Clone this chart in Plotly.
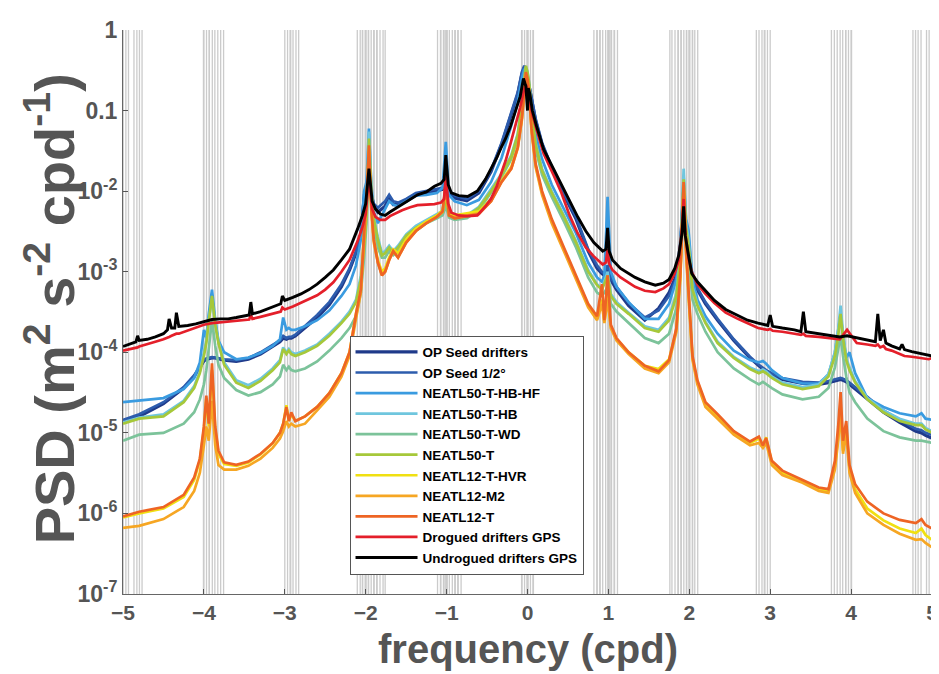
import plotly.graph_objects as go

# ---------------- data ----------------
# frequency grid (cpd) for the model / forecast spectra
FREQ_MODEL = [
    -5.0, -4.8, -4.5, -4.25, -4.12, -4.05, -4.0, -3.97, -3.94, -3.9,
    -3.86, -3.82, -3.75, -3.6, -3.45, -3.3, -3.15, -3.06, -3.02, -2.98,
    -2.95, -2.92, -2.87, -2.75, -2.6, -2.45, -2.3, -2.2, -2.12, -2.06,
    -2.02, -1.99, -1.96, -1.93, -1.9, -1.85, -1.8, -1.76, -1.71, -1.66,
    -1.6, -1.5, -1.38, -1.25, -1.12, -1.05, -1.01, -0.97, -0.9, -0.75,
    -0.6, -0.45, -0.32, -0.2, -0.12, -0.07, -0.04, -0.02, 0.0, 0.02,
    0.05, 0.1, 0.18, 0.3, 0.45, 0.6, 0.75, 0.86, 0.92, 0.95,
    0.99, 1.03, 1.1, 1.25, 1.45, 1.62, 1.75, 1.84, 1.89, 1.93,
    1.96, 1.99, 2.04, 2.1, 2.2, 2.35, 2.55, 2.75, 2.86, 2.91,
    2.95, 3.02, 3.15, 3.4, 3.6, 3.72, 3.8, 3.84, 3.87, 3.9,
    3.94, 3.98, 4.05, 4.2, 4.4, 4.6, 4.8, 4.87, 4.92, 5.0,
]

OP_SEED_DRIFTERS = [
    1.35e-5, 1.6e-5, 2.3e-5, 3.6e-5, 5.0e-5, 6.6e-5, 7.8e-5, 8.2e-5, 8.4e-5, 8.5e-5,
    8.5e-5, 8.3e-5, 8.0e-5, 7.7e-5, 8.2e-5, 9.5e-5, 1.2e-4, 1.35e-4, 1.5e-4, 1.45e-4,
    1.5e-4, 1.5e-4, 1.6e-4, 2.0e-4, 2.7e-4, 3.9e-4, 6.5e-4, 1.05e-3, 1.7e-3, 2.8e-3,
    8e-3, 1.1e-2, 1.6e-2, 9e-3, 6.5e-3, 5.5e-3, 6.0e-3, 6.5e-3, 8.5e-3, 6.8e-3,
    6.8e-3, 7.5e-3, 9.0e-3, 9.5e-3, 1.0e-2, 1.05e-2, 1.3e-2, 9.5e-3, 8.2e-3, 7.6e-3,
    9.5e-3, 1.75e-2, 3.8e-2, 9e-2, 0.16, 0.28, 0.34, 0.3, 0.22, 0.2,
    0.14, 7.5e-2, 3.8e-2, 1.9e-2, 9e-3, 4.5e-3, 1.8e-3, 1.1e-3, 9.5e-4, 9e-4,
    1.1e-3, 8e-4, 6e-4, 3.8e-4, 2.5e-4, 3.5e-4, 5.5e-4, 9e-4, 2.2e-3, 1.0e-2,
    3e-3, 1.6e-3, 8.5e-4, 6e-4, 4e-4, 2.5e-4, 1.4e-4, 8.5e-5, 6.8e-5, 6.2e-5,
    5.8e-5, 5.3e-5, 4.6e-5, 4.1e-5, 4.0e-5, 4.2e-5, 4.4e-5, 4.5e-5, 4.6e-5, 4.5e-5,
    4.3e-5, 4.0e-5, 3.5e-5, 2.6e-5, 1.8e-5, 1.35e-5, 1.05e-5, 1.0e-5, 9.3e-6, 8.6e-6,
]

OP_SEED_HALF = [
    1.45e-5, 1.7e-5, 2.4e-5, 3.7e-5, 5.2e-5, 6.8e-5, 8.0e-5, 8.4e-5, 8.6e-5, 8.7e-5,
    8.6e-5, 8.4e-5, 8.2e-5, 8.0e-5, 8.5e-5, 1.0e-4, 1.25e-4, 1.4e-4, 1.6e-4, 1.5e-4,
    1.55e-4, 1.55e-4, 1.65e-4, 2.1e-4, 2.9e-4, 4.2e-4, 7.0e-4, 1.1e-3, 1.8e-3, 3.0e-3,
    9e-3, 1.2e-2, 1.8e-2, 9.5e-3, 7e-3, 6.2e-3, 6.8e-3, 7.5e-3, 9e-3, 7.5e-3,
    7.2e-3, 8.0e-3, 9.5e-3, 1.0e-2, 1.05e-2, 1.1e-2, 1.35e-2, 1.0e-2, 8.8e-3, 8.0e-3,
    1.0e-2, 1.85e-2, 4.0e-2, 9.5e-2, 0.17, 0.3, 0.36, 0.31, 0.23, 0.21,
    0.15, 8e-2, 4e-2, 2.0e-2, 9.5e-3, 4.8e-3, 1.9e-3, 1.2e-3, 1.0e-3, 9.5e-4,
    1.2e-3, 8.5e-4, 6.5e-4, 4.1e-4, 2.7e-4, 3.3e-4, 5.0e-4, 8.5e-4, 2.0e-3, 1.1e-2,
    3.2e-3, 1.7e-3, 9e-4, 6.3e-4, 4.2e-4, 2.6e-4, 1.45e-4, 8.8e-5, 7e-5, 6.4e-5,
    6.0e-5, 5.5e-5, 4.8e-5, 4.3e-5, 4.2e-5, 4.4e-5, 4.6e-5, 4.7e-5, 4.8e-5, 4.7e-5,
    4.5e-5, 4.2e-5, 3.7e-5, 2.8e-5, 1.9e-5, 1.45e-5, 1.12e-5, 1.08e-5, 1.0e-5, 9.4e-6,
]

NEATL50_T_HB_HF = [
    2.4e-5, 2.5e-5, 2.7e-5, 3.5e-5, 4.8e-5, 7.5e-5, 1.9e-4, 1.5e-4, 3.0e-4, 6.0e-4,
    2.5e-4, 1.4e-4, 1.0e-4, 8.2e-5, 8.6e-5, 9.8e-5, 1.2e-4, 1.45e-4, 2.7e-4, 1.9e-4,
    2.0e-4, 1.9e-4, 1.9e-4, 2.1e-4, 2.5e-4, 3.3e-4, 5.0e-4, 7.0e-4, 1.2e-3, 2.5e-3,
    1.0e-2, 1.3e-2, 6.0e-2, 1.2e-2, 5.5e-3, 4.0e-3, 5.0e-3, 6.0e-3, 7.5e-3, 6.8e-3,
    6.5e-3, 7.5e-3, 8.8e-3, 9.0e-3, 9.5e-3, 1.1e-2, 4.1e-2, 9e-3, 7.5e-3, 6.7e-3,
    7.8e-3, 1.3e-2, 2.6e-2, 6.5e-2, 0.13, 0.25, 0.33, 0.3, 0.24, 0.2,
    0.12, 5e-2, 2.5e-2, 1.2e-2, 6e-3, 3e-3, 1.3e-3, 8.5e-4, 7.5e-4, 9e-4,
    8.5e-3, 1.0e-3, 6.5e-4, 4.2e-4, 2.6e-4, 2.6e-4, 4.0e-4, 8e-4, 2.0e-3, 1.5e-2,
    4.5e-3, 3.3e-3, 8e-4, 4.5e-4, 2.8e-4, 1.7e-4, 1.05e-4, 8.0e-5, 7.5e-5, 7.8e-5,
    7.2e-5, 6e-5, 4.8e-5, 4.1e-5, 4.1e-5, 5.3e-5, 1.0e-4, 1.8e-4, 3.0e-4, 1.6e-4,
    8.5e-5, 1.0e-4, 5.5e-5, 2.7e-5, 2.1e-5, 1.75e-5, 1.6e-5, 1.75e-5, 1.5e-5, 1.45e-5,
]

NEATL50_T_HB = [
    1.35e-5, 1.55e-5, 1.7e-5, 2.5e-5, 3.8e-5, 5.8e-5, 1.0e-4, 1.4e-4, 2.6e-4, 4.5e-4,
    2.3e-4, 1.35e-4, 7.5e-5, 4.5e-5, 3.9e-5, 4.7e-5, 6.3e-5, 8e-5, 1.15e-4, 1.0e-4,
    1.1e-4, 1.0e-4, 9.5e-5, 1.05e-4, 1.25e-4, 1.7e-4, 2.4e-4, 3.2e-4, 4.5e-4, 9e-4,
    2.5e-3, 6e-3, 5.5e-2, 1.1e-2, 4.8e-3, 2.7e-3, 1.7e-3, 1.8e-3, 2.1e-3, 1.8e-3,
    2.1e-3, 2.9e-3, 3.7e-3, 4.4e-3, 5.2e-3, 5.7e-3, 1.0e-2, 5.2e-3, 4.8e-3, 5.0e-3,
    6.4e-3, 1.05e-2, 1.65e-2, 2.8e-2, 5.2e-2, 0.125, 0.26, 0.35, 0.3, 0.22,
    0.1, 4e-2, 1.9e-2, 1.0e-2, 5e-3, 2.4e-3, 1.05e-3, 7e-4, 6.2e-4, 7.5e-4,
    1.0e-3, 5.3e-4, 4.2e-4, 3.1e-4, 2.1e-4, 1.9e-4, 2.7e-4, 5.5e-4, 1.7e-3, 1.9e-2,
    4e-3, 2.5e-3, 6.5e-4, 4e-4, 2.4e-4, 1.35e-4, 8.8e-5, 6.5e-5, 5.8e-5, 6.1e-5,
    5.8e-5, 5.0e-5, 4.2e-5, 3.7e-5, 4.0e-5, 5.4e-5, 1.0e-4, 1.9e-4, 3.8e-4, 1.7e-4,
    8.5e-5, 6.5e-5, 4.4e-5, 2.7e-5, 1.9e-5, 1.5e-5, 1.3e-5, 1.3e-5, 1.15e-5, 1.05e-5,
]

NEATL50_T_WD = [
    8.0e-6, 9.5e-6, 1.0e-5, 1.3e-5, 1.8e-5, 2.6e-5, 4.0e-5, 6.0e-5, 1.1e-4, 2.5e-4,
    1.2e-4, 7.0e-5, 4.8e-5, 3.4e-5, 2.9e-5, 3.2e-5, 4.0e-5, 5.0e-5, 7.0e-5, 6.0e-5,
    6.6e-5, 6.0e-5, 5.8e-5, 6.3e-5, 7.7e-5, 1.05e-4, 1.5e-4, 2.0e-4, 2.8e-4, 5.5e-4,
    1.5e-3, 4e-3, 2.5e-2, 7e-3, 3.5e-3, 2.0e-3, 1.5e-3, 1.5e-3, 1.8e-3, 1.6e-3,
    1.8e-3, 2.5e-3, 3.2e-3, 4.0e-3, 4.6e-3, 5e-3, 6.5e-3, 4.7e-3, 4.4e-3, 4.6e-3,
    5.8e-3, 9.5e-3, 1.5e-2, 2.5e-2, 4.5e-2, 0.1, 0.22, 0.3, 0.26, 0.2,
    0.09, 3.3e-2, 1.6e-2, 8.5e-3, 4.2e-3, 2.0e-3, 8.5e-4, 5.5e-4, 5.0e-4, 5.5e-4,
    6.5e-4, 4.0e-4, 3.2e-4, 2.3e-4, 1.5e-4, 1.3e-4, 1.7e-4, 3.5e-4, 1.1e-3, 1.0e-2,
    2.5e-3, 1.5e-3, 4.5e-4, 3.0e-4, 1.8e-4, 1.0e-4, 6.3e-5, 4.6e-5, 4.0e-5, 4.3e-5,
    4.0e-5, 3.6e-5, 3.0e-5, 2.6e-5, 2.8e-5, 3.6e-5, 6.5e-5, 1.1e-4, 1.6e-4, 9e-5,
    5.0e-5, 3.2e-5, 2.4e-5, 1.5e-5, 1.05e-5, 8.8e-6, 8.0e-6, 8.0e-6, 7.8e-6, 7.5e-6,
]

NEATL50_T = [
    1.3e-5, 1.5e-5, 1.6e-5, 2.4e-5, 3.6e-5, 5.5e-5, 9e-5, 1.3e-4, 2.4e-4, 5.0e-4,
    2.2e-4, 1.3e-4, 7.0e-5, 4.2e-5, 3.6e-5, 4.4e-5, 6.0e-5, 7.5e-5, 1.1e-4, 9.5e-5,
    1.05e-4, 9.5e-5, 9e-5, 1.0e-4, 1.2e-4, 1.6e-4, 2.3e-4, 3.0e-4, 4.2e-4, 8e-4,
    2.0e-3, 5e-3, 4.5e-2, 1.0e-2, 4.5e-3, 2.5e-3, 1.6e-3, 1.7e-3, 2.0e-3, 1.7e-3,
    2.0e-3, 2.8e-3, 3.5e-3, 4.2e-3, 5.0e-3, 5.5e-3, 8e-3, 5e-3, 4.6e-3, 4.9e-3,
    6.2e-3, 1.0e-2, 1.6e-2, 2.7e-2, 5e-2, 0.12, 0.25, 0.36, 0.3, 0.22,
    0.1, 3.8e-2, 1.8e-2, 9.5e-3, 4.8e-3, 2.3e-3, 1.0e-3, 6.8e-4, 6e-4, 7e-4,
    9e-4, 5e-4, 4e-4, 3.0e-4, 2.0e-4, 1.8e-4, 2.5e-4, 5e-4, 1.5e-3, 1.4e-2,
    3.5e-3, 2.2e-3, 6e-4, 3.8e-4, 2.3e-4, 1.3e-4, 8.5e-5, 6.2e-5, 5.5e-5, 5.8e-5,
    5.5e-5, 4.8e-5, 4.0e-5, 3.5e-5, 3.8e-5, 5.0e-5, 9e-5, 1.6e-4, 3.0e-4, 1.5e-4,
    8e-5, 6e-5, 4.2e-5, 2.6e-5, 1.8e-5, 1.4e-5, 1.25e-5, 1.25e-5, 1.1e-5, 1.0e-5,
]

NEATL12_T_HVR = [
    8.9e-7, 1.0e-6, 1.15e-6, 1.6e-6, 2.6e-6, 4.6e-6, 1.1e-5, 2.7e-5, 1.2e-5, 6e-5,
    1.1e-5, 5.5e-6, 4.1e-6, 3.9e-6, 4.3e-6, 5.4e-6, 7.4e-6, 1.0e-5, 1.3e-5, 2.2e-5,
    1.4e-5, 1.7e-5, 1.4e-5, 1.6e-5, 2.1e-5, 3.1e-5, 5.5e-5, 1.0e-4, 3.0e-4, 6e-4,
    3e-3, 8e-3, 3.0e-2, 6e-3, 2.5e-3, 1.4e-3, 1.0e-3, 1.1e-3, 1.5e-3, 1.9e-3,
    1.7e-3, 2.5e-3, 3.4e-3, 4.2e-3, 5.0e-3, 5.8e-3, 1.0e-2, 5.3e-3, 5.0e-3, 5.3e-3,
    5.6e-3, 8e-3, 1.35e-2, 2.0e-2, 3.6e-2, 8e-2, 0.18, 0.28, 0.24, 0.17,
    6e-2, 2.1e-2, 9.5e-3, 4.3e-3, 1.9e-3, 8.5e-4, 3.8e-4, 2.6e-4, 4.5e-4, 2.4e-4,
    5e-4, 2.1e-4, 1.45e-4, 1.0e-4, 6.8e-5, 6.2e-5, 8.2e-5, 1.9e-4, 9e-4, 1.1e-2,
    1.8e-3, 5.5e-4, 8.5e-5, 4.3e-5, 2.3e-5, 1.6e-5, 1.0e-5, 7.5e-6, 8.5e-6, 7e-6,
    8.8e-6, 4.3e-6, 3.2e-6, 2.5e-6, 2.0e-6, 1.9e-6, 3.8e-6, 9e-6, 2.2e-5, 6e-6,
    1.2e-5, 3.6e-6, 2.0e-6, 1.15e-6, 8.2e-7, 6.5e-7, 5.7e-7, 6.5e-7, 5.4e-7, 4.7e-7,
]

NEATL12_M2 = [
    6.6e-7, 7.0e-7, 8.5e-7, 1.2e-6, 1.9e-6, 3.2e-6, 7e-6, 1.2e-5, 8e-6, 2.5e-5,
    7e-6, 4.0e-6, 3.5e-6, 3.5e-6, 3.9e-6, 4.8e-6, 6.5e-6, 8.5e-6, 1.05e-5, 1.4e-5,
    1.2e-5, 1.3e-5, 1.2e-5, 1.3e-5, 1.9e-5, 2.8e-5, 5.0e-5, 9e-5, 2.6e-4, 5.5e-4,
    2.5e-3, 7e-3, 3.2e-2, 5.5e-3, 2.3e-3, 1.3e-3, 9e-4, 1.0e-3, 1.4e-3, 1.8e-3,
    1.5e-3, 2.3e-3, 3.2e-3, 4.0e-3, 4.8e-3, 5.5e-3, 1.1e-2, 5.0e-3, 4.7e-3, 5.0e-3,
    5.3e-3, 7.5e-3, 1.3e-2, 1.9e-2, 3.4e-2, 7.5e-2, 0.17, 0.27, 0.23, 0.16,
    5.5e-2, 2.0e-2, 9e-3, 4.0e-3, 1.8e-3, 8e-4, 3.6e-4, 2.5e-4, 4e-4, 2.3e-4,
    4.5e-4, 2.0e-4, 1.4e-4, 9.5e-5, 6.3e-5, 5.5e-5, 7.5e-5, 1.8e-4, 8.5e-4, 1.2e-2,
    1.7e-3, 5e-4, 8e-5, 4.0e-5, 2.1e-5, 1.5e-5, 9.5e-6, 7.0e-6, 7.5e-6, 6.5e-6,
    7.5e-6, 4.0e-6, 3.0e-6, 2.4e-6, 1.9e-6, 1.8e-6, 3.5e-6, 8e-6, 1.8e-5, 5.5e-6,
    1.0e-5, 3.2e-6, 1.8e-6, 1.0e-6, 7.2e-7, 5.6e-7, 4.7e-7, 4.8e-7, 4.3e-7, 3.8e-7,
]

NEATL12_T = [
    9.2e-7, 1.05e-6, 1.2e-6, 1.7e-6, 2.8e-6, 4.8e-6, 1.2e-5, 2.9e-5, 1.3e-5, 7.3e-5,
    1.2e-5, 6e-6, 4.3e-6, 4.0e-6, 4.4e-6, 5.5e-6, 7.5e-6, 1.0e-5, 1.3e-5, 2.1e-5,
    1.4e-5, 1.8e-5, 1.4e-5, 1.6e-5, 2.1e-5, 3.1e-5, 5.5e-5, 1.0e-4, 3.0e-4, 6e-4,
    3e-3, 8e-3, 3.7e-2, 6e-3, 2.5e-3, 1.3e-3, 9e-4, 1.0e-3, 1.4e-3, 1.8e-3,
    1.5e-3, 2.3e-3, 3.2e-3, 4.0e-3, 4.8e-3, 5.6e-3, 1.3e-2, 5.0e-3, 4.6e-3, 4.9e-3,
    5.2e-3, 7.5e-3, 1.3e-2, 1.9e-2, 3.5e-2, 8e-2, 0.18, 0.3, 0.25, 0.17,
    6e-2, 2.2e-2, 1.0e-2, 4.5e-3, 2.0e-3, 9e-4, 4.0e-4, 2.8e-4, 7e-4, 2.5e-4,
    9e-4, 2.2e-4, 1.5e-4, 1.0e-4, 6.8e-5, 5.8e-5, 8e-5, 2.0e-4, 1.0e-3, 1.3e-2,
    2.0e-3, 6e-4, 9e-5, 4.5e-5, 2.4e-5, 1.7e-5, 1.05e-5, 7.8e-6, 9e-6, 7e-6,
    8.6e-6, 4.5e-6, 3.4e-6, 2.6e-6, 2.1e-6, 2.0e-6, 4.5e-6, 1.2e-5, 3.2e-5, 8e-6,
    1.4e-5, 4e-6, 2.3e-6, 1.4e-6, 1.0e-6, 8.3e-7, 7.6e-7, 8.5e-7, 7.2e-7, 6.5e-7,
]

# frequency grid (cpd) for the observed drifter spectra
FREQ_OBS = [
    -5.0, -4.9, -4.84, -4.82, -4.8, -4.7, -4.6, -4.5, -4.45, -4.43,
    -4.4, -4.36, -4.34, -4.31, -4.2, -4.1, -4.0, -3.9, -3.8, -3.7,
    -3.6, -3.5, -3.44, -3.42, -3.4, -3.3, -3.2, -3.1, -3.05, -3.03,
    -3.0, -2.9, -2.8, -2.7, -2.6, -2.5, -2.4, -2.3, -2.2, -2.1,
    -2.04, -2.0, -1.96, -1.92, -1.88, -1.82, -1.76, -1.7, -1.62, -1.55,
    -1.45, -1.36, -1.25, -1.15, -1.07, -1.03, -1.01, -0.98, -0.94, -0.85,
    -0.74, -0.62, -0.52, -0.45, -0.38, -0.33, -0.27, -0.21, -0.15, -0.09,
    -0.05, -0.02, 0.0, 0.01, 0.03, 0.06, 0.11, 0.2, 0.32, 0.42,
    0.52, 0.62, 0.72, 0.82, 0.93, 0.97, 0.99, 1.01, 1.05, 1.15,
    1.33, 1.45, 1.58, 1.68, 1.75, 1.82, 1.87, 1.91, 1.93, 1.95,
    1.99, 2.03, 2.1, 2.2, 2.31, 2.45, 2.6, 2.72, 2.85, 2.97,
    3.0, 3.03, 3.15, 3.3, 3.38, 3.41, 3.44, 3.6, 3.75, 3.86,
    3.95, 4.07, 4.2, 4.3, 4.33, 4.36, 4.4, 4.43, 4.5, 4.6,
    4.63, 4.66, 4.75, 4.85, 4.96, 5.0,
]

DROGUED_GPS = [
    1.05e-4, 1.1e-4, 1.15e-4, 1.15e-4, 1.18e-4, 1.25e-4, 1.35e-4, 1.45e-4, 1.5e-4, 1.55e-4,
    1.6e-4, 1.65e-4, 1.7e-4, 1.7e-4, 1.85e-4, 2.0e-4, 2.2e-4, 2.3e-4, 2.35e-4, 2.4e-4,
    2.45e-4, 2.5e-4, 2.55e-4, 2.9e-4, 2.6e-4, 2.75e-4, 2.9e-4, 3.1e-4, 3.2e-4, 3.6e-4,
    3.4e-4, 3.7e-4, 4.1e-4, 4.5e-4, 5.1e-4, 6.0e-4, 7.4e-4, 1.0e-3, 1.4e-3, 2.4e-3,
    3.6e-3, 5.2e-3, 1.5e-2, 6e-3, 4.8e-3, 4.4e-3, 4.4e-3, 4.9e-3, 5.4e-3, 5.8e-3,
    6.3e-3, 6.7e-3, 6.8e-3, 6.9e-3, 7.2e-3, 8.0e-3, 1.6e-2, 7.0e-3, 5.4e-3, 5.0e-3,
    4.9e-3, 5.0e-3, 6.5e-3, 8.1e-3, 1.15e-2, 1.6e-2, 2.4e-2, 3.9e-2, 6.5e-2, 0.11,
    0.17, 0.21, 0.18, 0.16, 0.13, 9e-2, 5.9e-2, 2.9e-2, 1.6e-2, 9.5e-3,
    5.0e-3, 3.0e-3, 2.0e-3, 1.55e-3, 1.23e-3, 1.3e-3, 1.9e-3, 1.25e-3, 1.05e-3, 8.5e-4,
    6.5e-4, 5.8e-4, 5.6e-4, 6.2e-4, 7.0e-4, 9.5e-4, 1.4e-3, 3.5e-3, 8e-3, 3e-3,
    1.5e-3, 1.0e-3, 7e-4, 5.3e-4, 4.1e-4, 3.1e-4, 2.6e-4, 2.3e-4, 2.0e-4, 1.9e-4,
    1.95e-4, 1.85e-4, 1.8e-4, 1.7e-4, 1.65e-4, 1.7e-4, 1.6e-4, 1.55e-4, 1.5e-4, 1.45e-4,
    1.9e-4, 1.3e-4, 1.25e-4, 1.2e-4, 1.25e-4, 1.15e-4, 1.2e-4, 1.1e-4, 1.05e-4, 9.5e-5,
    9.2e-5, 9.0e-5, 8.8e-5, 8.5e-5, 8.2e-5, 8.5e-5,
]

UNDROGUED_GPS = [
    1.18e-4, 1.3e-4, 1.35e-4, 1.6e-4, 1.4e-4, 1.45e-4, 1.55e-4, 1.7e-4, 1.9e-4, 2.6e-4,
    2.0e-4, 2.0e-4, 3.1e-4, 2.1e-4, 2.15e-4, 2.25e-4, 2.4e-4, 2.55e-4, 2.6e-4, 2.6e-4,
    2.7e-4, 2.8e-4, 2.9e-4, 4.2e-4, 3.0e-4, 3.2e-4, 3.5e-4, 3.9e-4, 4.0e-4, 5.0e-4,
    4.4e-4, 4.8e-4, 5.3e-4, 6.0e-4, 7.0e-4, 8.5e-4, 1.05e-3, 1.4e-3, 1.9e-3, 3.4e-3,
    5.0e-3, 7.0e-3, 1.9e-2, 7.5e-3, 6.0e-3, 5.2e-3, 5.0e-3, 5.5e-3, 6.2e-3, 6.8e-3,
    8.0e-3, 9.0e-3, 9.8e-3, 1.15e-2, 1.25e-2, 1.4e-2, 2.8e-2, 1.2e-2, 9.5e-3, 8.8e-3,
    8.6e-3, 1.0e-2, 1.4e-2, 1.9e-2, 2.6e-2, 3.4e-2, 4.5e-2, 6.4e-2, 0.1, 0.15,
    0.25, 0.2, 0.1, 0.19, 0.16, 0.1, 6.5e-2, 3.3e-2, 1.9e-2, 1.2e-2,
    7.5e-3, 4.8e-3, 3.2e-3, 2.3e-3, 1.8e-3, 1.9e-3, 3.5e-3, 1.8e-3, 1.4e-3, 1.1e-3,
    8.5e-4, 7.5e-4, 6.8e-4, 7.2e-4, 8.0e-4, 1.1e-3, 1.6e-3, 3.0e-3, 6.5e-3, 2.8e-3,
    1.6e-3, 9.5e-4, 7.5e-4, 5.8e-4, 4.4e-4, 3.4e-4, 2.9e-4, 2.5e-4, 2.3e-4, 2.15e-4,
    2.9e-4, 2.1e-4, 2.0e-4, 1.9e-4, 1.8e-4, 3.2e-4, 1.8e-4, 1.7e-4, 1.6e-4, 1.55e-4,
    1.6e-4, 1.5e-4, 1.4e-4, 1.35e-4, 3.0e-4, 1.4e-4, 1.9e-4, 1.3e-4, 1.2e-4, 1.1e-4,
    1.25e-4, 1.08e-4, 1.02e-4, 9.7e-5, 9.3e-5, 9.0e-5,
]

# tidal constituent frequencies (cpd), drawn at +/- f as grey lines
TIDAL_FREQS = [
    0.0027, 0.0055, 0.0363, 0.0677, 0.0732,
    0.8208, 0.8570, 0.8618, 0.8932, 0.8981, 0.9295, 0.9661, 0.9945, 0.9973,
    1.0, 1.0027, 1.0055, 1.0082, 1.0312, 1.0390, 1.0705, 1.0759, 1.1121,
    1.7596, 1.7855, 1.8234, 1.8597, 1.8642, 1.8960, 1.9006, 1.9323, 1.9637,
    1.9686, 1.9973, 2.0, 2.0027, 2.0055, 2.0369, 2.0416, 2.0677, 2.1040,
    2.8285, 2.8618, 2.8984, 2.9268, 2.9350, 2.9660, 3.0,
    3.7566, 3.7928, 3.8283, 3.8645, 3.8960, 3.9323, 3.9350, 3.9677, 4.0, 4.0055,
    4.7644, 4.7968, 4.8284, 4.8645, 4.9323, 4.9645, 4.9973,
]

SERIES = [
    ("OP Seed drifters", FREQ_MODEL, OP_SEED_DRIFTERS, "#1f3a8a", 3.2),
    ("OP Seed 1/2°", FREQ_MODEL, OP_SEED_HALF, "#2d5cad", 2.7),
    ("NEATL50-T-HB-HF", FREQ_MODEL, NEATL50_T_HB_HF, "#3a9be0", 2.7),
    ("NEATL50-T-HB", FREQ_MODEL, NEATL50_T_HB, "#6fc6de", 2.7),
    ("NEATL50-T-WD", FREQ_MODEL, NEATL50_T_WD, "#7cc39a", 2.7),
    ("NEATL50-T", FREQ_MODEL, NEATL50_T, "#a6c83a", 2.7),
    ("NEATL12-T-HVR", FREQ_MODEL, NEATL12_T_HVR, "#f0e012", 2.7),
    ("NEATL12-M2", FREQ_MODEL, NEATL12_M2, "#f6a623", 2.7),
    ("NEATL12-T", FREQ_MODEL, NEATL12_T, "#ee6424", 2.7),
    ("Drogued drifters GPS", FREQ_OBS, DROGUED_GPS, "#e41f2a", 2.7),
    ("Undrogued drifters GPS", FREQ_OBS, UNDROGUED_GPS, "#000000", 2.9),
]

Y_TICKS = [1e-7, 1e-6, 1e-5, 1e-4, 1e-3, 1e-2, 0.1, 1]
Y_TICKTEXT = ["10<sup>-7</sup>", "10<sup>-6</sup>", "10<sup>-5</sup>", "10<sup>-4</sup>",
              "10<sup>-3</sup>", "10<sup>-2</sup>", "0.1", "1"]
X_TICKS = [-5, -4, -3, -2, -1, 0, 1, 2, 3, 4, 5]

for name, fx, vals, _, _ in SERIES:
    if len(fx) != len(vals):
        raise ValueError(f"{name}: {len(fx)} freqs vs {len(vals)} values")

# ---------------- figure ----------------
FONT = "Liberation Sans, Arial, Helvetica, sans-serif"
GREY_TXT = "#555555"

fig = go.Figure()

# grey tidal lines
tx, ty = [], []
for f in TIDAL_FREQS:
    for s in (-1, 1):
        tx += [s * f, s * f, None]
        ty += [Y_TICKS[0], Y_TICKS[-1], None]
fig.add_trace(go.Scatter(x=tx, y=ty, mode="lines", showlegend=False, hoverinfo="skip",
                         line=dict(color="#cbcbcb", width=1.3)))

for name, fx, vals, color, w in SERIES:
    fig.add_trace(go.Scatter(x=fx, y=vals, mode="lines", name=name,
                             line=dict(color=color, width=w)))

fig.update_layout(
    width=939, height=674,
    margin=dict(l=115, r=9, t=20, b=88),
    paper_bgcolor="white", plot_bgcolor="white",
    font=dict(family=FONT, color=GREY_TXT),
    showlegend=True,
    legend=dict(x=0.28, y=0.458, xanchor="left", yanchor="top",
                bgcolor="white", bordercolor="#555555", borderwidth=1,
                font=dict(family=FONT, size=13.5, color="black", weight="bold"),
                itemwidth=62, tracegroupgap=0),
    xaxis=dict(range=[-5, 5], tickvals=X_TICKS, ticks="inside", ticklen=5,
               tickcolor="#555555", showline=True, linecolor="#666666", linewidth=1,
               showgrid=False, zeroline=False, ticklabeloverflow="allow",
               tickfont=dict(family=FONT, size=21, color=GREY_TXT, weight="bold")),
    yaxis=dict(type="log", range=[-7, 0], tickvals=Y_TICKS, ticktext=Y_TICKTEXT,
               ticks="inside", ticklen=5, tickcolor="#555555",
               showline=True, linecolor="#666666", linewidth=1,
               showgrid=False, zeroline=False,
               tickfont=dict(family=FONT, size=23, color=GREY_TXT, weight="bold")),
    annotations=[
        dict(text="PSD (m<sup>2</sup> s<sup>-2</sup> cpd<sup>-1</sup>)", xref="paper", yref="paper",
             x=-0.09, y=0.505, xanchor="center", yanchor="middle", textangle=-90,
             showarrow=False, font=dict(family=FONT, size=56, color=GREY_TXT, weight="bold")),
        dict(text="frequency (cpd)", xref="paper", yref="paper",
             x=0.5, y=-0.098, xanchor="center", yanchor="middle",
             showarrow=False, font=dict(family=FONT, size=40, color=GREY_TXT, weight="bold")),
    ],
)

fig.write_html("out.html")
